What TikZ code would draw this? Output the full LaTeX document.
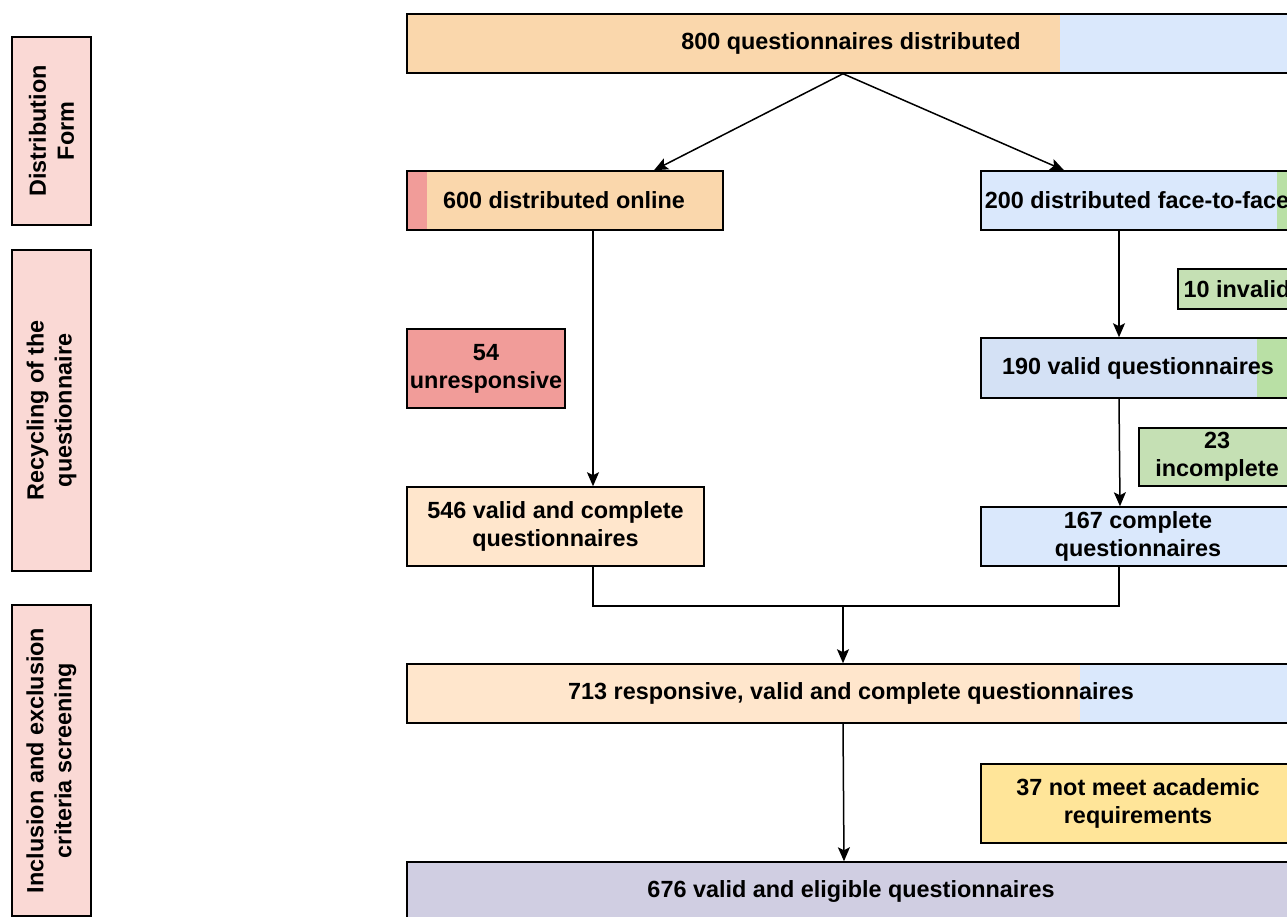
\documentclass[tikz,border=0pt]{standalone}
\usepackage{fontspec}
\setmainfont{Liberation Sans}
\usetikzlibrary{arrows.meta}
\definecolor{orangebox}{HTML}{FAD7AC}
\definecolor{peachbox}{HTML}{FFE6CC}
\definecolor{bluebox}{HTML}{DAE8FC}
\definecolor{darkblue}{HTML}{D4E1F5}
\definecolor{redbox}{HTML}{F19C99}
\definecolor{greenbar}{HTML}{B9E0A5}
\definecolor{greenbox}{HTML}{C5E0B4}
\definecolor{yellowbox}{HTML}{FFE599}
\definecolor{purplebox}{HTML}{D0CEE2}
\definecolor{pinkbox}{HTML}{FAD9D5}
\tikzset{
	box/.style={draw,line width=1.5pt,inner sep=0,align=center,
		font=\fontsize{23.4}{28}\selectfont\bfseries},
	rpart/.style 2 args={path picture={\fill[#1] ([xshift=#2]path picture bounding box.south west) rectangle (path picture bounding box.north east);}},
	lpart/.style 2 args={path picture={\fill[#1] (path picture bounding box.south west) rectangle ([xshift=#2]path picture bounding box.north west);}},
	stage/.style={box,fill=pinkbox,rotate=90,minimum height=79pt},
	arr/.style={line width=1.5pt,-{Stealth[length=14pt,width=12pt,inset=3pt]}},
}
\begin{document}
\begin{tikzpicture}[x=1pt,y=-1pt]
	\useasboundingbox (0,0) rectangle (1287,917);
	\clip (0,0) rectangle (1287,917);
	
	\node [stage,minimum width=188pt] (form) at (51.5,131) {Distribution\\Form};
	\node [stage,minimum width=321pt] (recycle) at (51.5,410.5) {Recycling of the\\questionnaire};
	\node [stage,minimum width=311pt] (screen) at (51.5,760.5) {Inclusion and exclusion\\criteria screening};
	
	\node [box,fill=orangebox,rpart={bluebox}{653pt},minimum width=888pt,minimum height=59pt] (total) at (851,43.5) {800 questionnaires distributed};
	\node [box,fill=orangebox,lpart={redbox}{20pt},minimum width=316pt,minimum height=59pt] (online) at (565,200.5) {\hspace*{-2pt}600 distributed online};
	\node [box,fill=bluebox,rpart={greenbar}{296pt},minimum width=312pt,minimum height=59pt] (face) at (1137,200.5) {200 distributed face-to-face};
	
	\node [box,fill=greenbox,minimum width=118pt,minimum height=40pt] (invalid) at (1237,289) {10 invalid};
	\node [box,fill=darkblue,rpart={greenbar}{276pt},minimum width=314pt,minimum height=60pt] (valid190) at (1138,368) {190 valid questionnaires};
	\node [box,fill=greenbox,minimum width=156pt,minimum height=58pt] (incomplete) at (1217,457) {23\\incomplete};
	\node [box,fill=bluebox,minimum width=314pt,minimum height=59pt] (complete167) at (1138,536.5) {167 complete\\questionnaires};
	
	\node [box,fill=redbox,minimum width=158pt,minimum height=79pt] (unresp) at (486,368.5) {54\\unresponsive};
	\node [box,fill=peachbox,minimum width=297pt,minimum height=79pt] (valid546) at (555.5,526.5) {546 valid and complete\\questionnaires};
	
	\node [box,fill=peachbox,rpart={bluebox}{673pt},minimum width=888pt,minimum height=59pt] (merged) at (851,693.5) {713 responsive, valid and complete questionnaires};
	\node [box,fill=yellowbox,minimum width=314pt,minimum height=79pt] (academic) at (1138,803.5) {37 not meet academic\\requirements};
	\node [box,fill=purplebox,minimum width=888pt,minimum height=59pt] (eligible) at (851,891.5) {676 valid and eligible questionnaires};
	
	\coordinate (join) at (843,606);
	
	\draw [arr] ([xshift=-8pt]total.south) -- ([xshift=89pt]online.north);
	\draw [arr] ([xshift=-8pt]total.south) -- ([xshift=-73pt]face.north);
	\draw [arr] ([xshift=28pt]online.south) -- ([xshift=28pt]online.south |- valid546.north);
	\draw [arr] ([xshift=-18pt]face.south) -- ([xshift=-18pt]face.south |- valid190.north);
	\draw [arr] ([xshift=-19pt]valid190.south) -- ([xshift=-18pt]complete167.north);
	\draw [line width=1.5pt] ([xshift=37.5pt]valid546.south) |- (join) -| ([xshift=-19pt]complete167.south);
	\draw [arr] (join) -- (join |- merged.north);
	\draw [arr] ([xshift=-8pt]merged.south) -- ([xshift=-7pt]eligible.north);
	
\end{tikzpicture}
\end{document}
